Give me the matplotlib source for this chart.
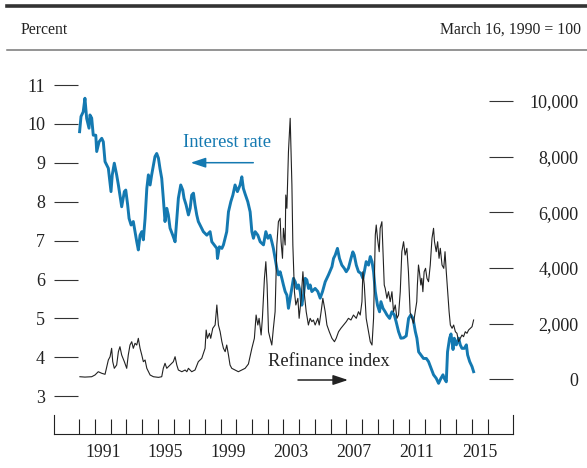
import matplotlib
matplotlib.use("Agg")
import matplotlib.pyplot as plt
from matplotlib.lines import Line2D

plt.rcParams["font.family"] = "Liberation Serif"

# 30-year mortgage rate (percent)
rate_year = [
    1990.02, 1990.11, 1990.25, 1990.36, 1990.47, 1990.62, 1990.68, 1990.79, 1990.89,
    1991.05, 1991.11, 1991.26, 1991.43, 1991.53, 1991.64, 1991.85,
    1992.02, 1992.10, 1992.23, 1992.38, 1992.49, 1992.59, 1992.70, 1992.87, 1992.96,
    1993.08, 1993.17, 1993.30, 1993.44, 1993.55, 1993.66, 1993.76, 1993.87, 1993.98,
    1994.08, 1994.19, 1994.30, 1994.40, 1994.51, 1994.61, 1994.72, 1994.82, 1994.93,
    1995.04, 1995.14, 1995.25, 1995.35, 1995.46, 1995.57, 1995.67, 1995.78, 1995.95,
    1996.10, 1996.21, 1996.31, 1996.46, 1996.59, 1996.67, 1996.80, 1996.95,
    1997.06, 1997.16, 1997.27, 1997.37, 1997.48, 1997.58, 1997.69, 1997.90,
    1998.12, 1998.33, 1998.44, 1998.59, 1998.76, 1998.80, 1998.92,
    1999.08, 1999.18, 1999.39, 1999.50, 1999.65, 1999.78, 1999.92,
    2000.07, 2000.24, 2000.35, 2000.45, 2000.56, 2000.73, 2000.88, 2000.99,
    2001.09, 2001.20, 2001.37, 2001.52, 2001.73, 2001.88,
    2002.01, 2002.15, 2002.26, 2002.36, 2002.47, 2002.58, 2002.68, 2002.79, 2002.90,
    2003.00, 2003.11, 2003.22, 2003.32, 2003.43, 2003.54, 2003.64, 2003.75, 2003.86, 2003.96,
    2004.07, 2004.17, 2004.28, 2004.39, 2004.49, 2004.60, 2004.70, 2004.81,
    2005.02, 2005.19, 2005.34, 2005.49, 2005.66, 2005.87,
    2006.09, 2006.19, 2006.30, 2006.44, 2006.57, 2006.72, 2006.87,
    2007.00, 2007.14, 2007.30, 2007.42, 2007.51, 2007.64, 2007.78, 2007.93,
    2008.06, 2008.15, 2008.27, 2008.42, 2008.53, 2008.64, 2008.74, 2008.85, 2008.99,
    2009.12, 2009.21, 2009.34, 2009.48, 2009.59, 2009.76, 2009.91,
    2010.06, 2010.18, 2010.33, 2010.48, 2010.65, 2010.82, 2010.97,
    2011.11, 2011.25, 2011.40, 2011.50, 2011.61, 2011.76, 2011.92,
    2012.10, 2012.24, 2012.40, 2012.56, 2012.73, 2012.88,
    2013.03, 2013.16, 2013.24, 2013.37, 2013.45, 2013.58, 2013.67, 2013.80, 2013.88,
    2014.01, 2014.16, 2014.26, 2014.37, 2014.52, 2014.65, 2014.73, 2014.86,
    2015.01, 2015.11,
]
rate = [
    9.80, 10.19, 10.31, 10.66, 10.14, 9.89, 10.23, 10.15, 9.71,
    9.71, 9.29, 9.54, 9.63, 9.54, 9.03, 8.86,
    8.26, 8.69, 8.99, 8.69, 8.43, 8.17, 7.87, 8.26, 8.30,
    7.92, 7.57, 7.40, 7.49, 7.23, 6.97, 6.76, 7.14, 7.23,
    7.02, 7.57, 8.34, 8.69, 8.43, 8.69, 8.94, 9.16, 9.24,
    9.12, 8.85, 8.60, 8.09, 7.49, 7.83, 7.66, 7.32, 7.14,
    6.97, 7.57, 8.09, 8.43, 8.30, 8.09, 7.92, 7.66,
    7.83, 8.17, 8.22, 7.92, 7.66, 7.49, 7.40, 7.23,
    7.14, 7.23, 6.97, 6.89, 6.80, 6.54, 6.84,
    6.80, 6.89, 7.23, 7.74, 8.00, 8.17, 8.43,
    8.26, 8.43, 8.64, 8.34, 8.20, 8.00, 7.74, 7.23,
    7.06, 7.23, 7.14, 6.97, 6.89, 7.23,
    7.06, 7.14, 6.97, 6.80, 6.54, 6.29, 6.12, 6.20, 6.03,
    5.86, 5.69, 5.60, 5.26, 5.52, 5.77, 6.03, 5.94, 5.77, 5.86,
    5.69, 5.34, 5.60, 6.03, 5.99, 5.77, 5.86, 5.69,
    5.77, 5.69, 5.52, 5.69, 5.94, 6.12,
    6.33, 6.54, 6.63, 6.80, 6.54, 6.37, 6.29,
    6.20, 6.29, 6.54, 6.71, 6.63, 6.37, 6.20, 6.16,
    6.03, 6.20, 6.46, 6.37, 6.59, 6.46, 6.20, 5.69, 5.34,
    5.17, 5.43, 5.26, 5.17, 5.09, 5.00, 5.17,
    5.09, 4.91, 4.66, 4.49, 4.50, 4.55, 5.00,
    5.09, 5.00, 4.66, 4.49, 4.14, 4.06, 3.97,
    3.97, 3.89, 3.72, 3.55, 3.46, 3.33,
    3.46, 3.55, 3.46, 3.37, 4.14, 4.49, 4.60, 4.20, 4.49,
    4.32, 4.49, 4.32, 4.23, 4.23, 4.32, 4.06, 3.89,
    3.76, 3.63,
]

# refinance index (March 16, 1990 = 100)
refi_year = [
    1990.04, 1990.36, 1990.79,
    1991.00, 1991.21, 1991.43, 1991.64, 1991.85, 1991.96,
    1992.06, 1992.13, 1992.23, 1992.38, 1992.49, 1992.59, 1992.70, 1992.87,
    1993.02, 1993.12, 1993.23, 1993.34, 1993.44, 1993.55, 1993.66, 1993.76, 1993.87, 1993.98,
    1994.08, 1994.19, 1994.30, 1994.51, 1994.72,
    1995.04, 1995.25, 1995.35, 1995.46, 1995.57, 1995.78, 1995.99,
    1996.10, 1996.21, 1996.31, 1996.53, 1996.74, 1996.85, 1996.95,
    1997.06, 1997.16, 1997.37, 1997.58, 1997.80,
    1998.01, 1998.08, 1998.16, 1998.29, 1998.37, 1998.50, 1998.65, 1998.76, 1998.86, 1998.97,
    1999.08, 1999.18, 1999.29, 1999.39, 1999.50, 1999.60, 1999.71, 1999.92,
    2000.13, 2000.35, 2000.56, 2000.77, 2000.99,
    2001.15, 2001.26, 2001.37, 2001.45, 2001.58, 2001.66, 2001.79, 2001.88, 2001.96,
    2002.05, 2002.15, 2002.26, 2002.36, 2002.47, 2002.58, 2002.68, 2002.79, 2002.85, 2002.94,
    2003.00, 2003.11, 2003.15, 2003.22, 2003.32, 2003.43, 2003.54, 2003.60, 2003.70, 2003.79, 2003.92,
    2004.00, 2004.13, 2004.24, 2004.34, 2004.45, 2004.59, 2004.70, 2004.81, 2004.91,
    2005.02, 2005.19, 2005.28, 2005.40, 2005.51, 2005.66, 2005.77, 2005.92,
    2006.09, 2006.25, 2006.36, 2006.51, 2006.66, 2006.83,
    2007.00, 2007.14, 2007.30, 2007.46, 2007.64, 2007.78, 2007.89,
    2008.00, 2008.06, 2008.15, 2008.27, 2008.42, 2008.53, 2008.64, 2008.74, 2008.85, 2008.91, 2008.99,
    2009.10, 2009.16, 2009.27, 2009.34, 2009.42, 2009.48, 2009.59, 2009.69, 2009.80, 2009.91,
    2010.01, 2010.12, 2010.23, 2010.33, 2010.44, 2010.54, 2010.65, 2010.75, 2010.86, 2010.96,
    2011.07, 2011.18, 2011.28, 2011.39, 2011.49, 2011.53, 2011.60, 2011.66, 2011.75, 2011.81, 2011.88, 2011.96,
    2012.05, 2012.14, 2012.24, 2012.35, 2012.46, 2012.56, 2012.62, 2012.73, 2012.82, 2012.91, 2012.99,
    2013.10, 2013.21, 2013.29, 2013.37, 2013.46, 2013.55, 2013.63, 2013.74, 2013.84, 2013.95,
    2014.05, 2014.16, 2014.26, 2014.37, 2014.47, 2014.58, 2014.69, 2014.79, 2014.90,
    2015.01, 2015.11,
]
refi = [
    93, 80, 93,
    155, 273, 216, 180, 694, 812,
    1114, 633, 395, 514, 992, 1171, 873, 633,
    395, 873, 1232, 1351, 1114, 1294, 1232, 1473, 1114, 873,
    633, 694, 395, 155, 93,
    70, 93, 395, 575, 395, 514, 633,
    812, 514, 334, 273, 334, 273, 395,
    334, 273, 334, 633, 755,
    1114, 1771, 1473, 1653, 1473, 1833, 1951, 2670, 1951, 1710,
    1351, 1114, 992, 1232, 873, 514, 395, 334,
    273, 334, 395, 550, 1114,
    1473, 2310, 1951, 2192, 1592, 2192, 3629, 4226, 3388,
    1710, 1473, 1232, 1833, 2429, 4826, 5663, 5785, 4944, 4348,
    5426, 4826, 6622, 6144, 8178, 9378, 6982, 4826, 3148, 2670, 2911,
    2192, 2911, 3866, 3029, 2429, 1951, 2192, 2070, 2131,
    1951, 2192, 1951, 2429, 2911, 2429, 1951, 1710,
    1473, 1351, 1473, 1710, 1833, 1951,
    2070, 2192, 2131, 2310, 2192, 2429, 2310,
    2788, 3866, 3388, 2192, 1710, 1351, 1232, 2192, 5185, 5544, 5066,
    4585, 5426, 5663, 4585, 3388, 3270, 2911, 3148, 2788, 3148,
    2429, 2670, 2192, 2310, 3148, 4585, 4944, 4466, 4707, 3866,
    2400, 2192, 2012, 2429, 2788, 3388, 4107, 3866, 3388, 3629, 3148, 3866,
    3988, 3629, 3507, 4107, 5066, 5426, 4944, 4585, 4944, 4348, 4707,
    4107, 3988, 4585, 3866, 3148, 2429, 1951, 1833, 1951, 1710,
    1653, 1351, 1473, 1592, 1531, 1710, 1653, 1771, 1833,
    1890, 2131,
]

left_ticks = list(range(3, 12))
right_ticks = list(range(0, 10001, 2000))
year_labels = [1991, 1995, 1999, 2003, 2007, 2011, 2015]

BLUE = "#1479b1"
DARK = "#222222"
W, H = 587, 468


def fx(x):
    return x / W


def fy(y):
    return 1 - y / H


fig = plt.figure(figsize=(5.87, 4.68), dpi=100)
ax = fig.add_axes([fx(54), fy(434), (512.7 - 54) / W, (434 - 70) / H])
ax.plot(rate_year, rate, color=BLUE, lw=2.1, solid_joinstyle="round")
ax.set_xlim(1988.39, 2017.6)
ax.set_ylim(2.028, 11.386)

ax2 = ax.twinx()
ax2.plot(refi_year, refi, color=DARK, lw=0.8)
ax2.set_ylim(-1965, 11114)

# spines: only the bottom line and short end pieces
ax.spines["top"].set_visible(False)
ax.spines["right"].set_visible(False)
ax.spines["left"].set_bounds(2.028, 2.52)
ax.spines["bottom"].set_color(DARK)
ax.spines["left"].set_color(DARK)
for s in ["top", "left", "bottom"]:
    ax2.spines[s].set_visible(False)
ax2.spines["right"].set_bounds(-1965, -1282)
ax2.spines["right"].set_color(DARK)
for a in (ax, ax2):
    for sp in a.spines.values():
        sp.set_linewidth(0.8)

# x axis
ax.set_xticks(range(1990, 2017))
ax.set_xticks([y + 0.5 for y in year_labels], minor=True)
ax.set_xticklabels([str(y) for y in year_labels], minor=True)
ax.tick_params(axis="x", which="major", direction="in", length=10.8, width=0.8,
               color=DARK, labelbottom=False)
ax.tick_params(axis="x", which="minor", length=0, pad=7, labelsize=12.7, labelcolor=DARK)

# left axis
ax.set_yticks(left_ticks)
ax.tick_params(axis="y", direction="in", length=17.3, width=0.8, color="#333333",
               pad=6.5, labelsize=13, labelcolor=DARK)

# right axis
ax2.set_yticks(right_ticks)
ax2.set_yticklabels([f"{v:,}" for v in right_ticks])
ax2.tick_params(axis="y", direction="in", length=17.3, width=0.8, color="#333333",
                pad=47.5, labelsize=13, labelcolor=DARK)
for lab in ax2.get_yticklabels():
    lab.set_horizontalalignment("right")

# header
fig.add_artist(Line2D([fx(7), 1], [fy(6), fy(6)], color="#333333", lw=2.6))
fig.add_artist(Line2D([fx(7), 1], [fy(50), fy(50)], color="#777777", lw=1.1))
fig.text(fx(20.7), fy(29.5), "Percent", fontsize=11.3, va="center", ha="left", color=DARK)
fig.text(fx(581), fy(29.5), "March 16, 1990 = 100", fontsize=11.3, va="center",
         ha="right", color=DARK)

# series labels with arrows
fig.text(fx(182.7), fy(142.7), "Interest rate", fontsize=13.3, color=BLUE,
         va="center", ha="left")
ax.annotate("", xy=(fx(190.7), fy(162.7)), xycoords="figure fraction",
            xytext=(fx(253.3), fy(162.7)), textcoords="figure fraction",
            arrowprops=dict(arrowstyle="-|>,head_length=0.6,head_width=0.2",
                            mutation_scale=15, color=BLUE, lw=1.1,
                            shrinkA=0, shrinkB=0))
fig.text(fx(268.3), fy(361.5), "Refinance index", fontsize=13.4, color=DARK,
         va="center", ha="left")
ax.annotate("", xy=(fx(348), fy(380)), xycoords="figure fraction",
            xytext=(fx(298), fy(380)), textcoords="figure fraction",
            arrowprops=dict(arrowstyle="-|>,head_length=0.6,head_width=0.2",
                            mutation_scale=15, color=DARK, lw=1.1,
                            shrinkA=0, shrinkB=0))

fig.savefig("out.png", dpi=100)
